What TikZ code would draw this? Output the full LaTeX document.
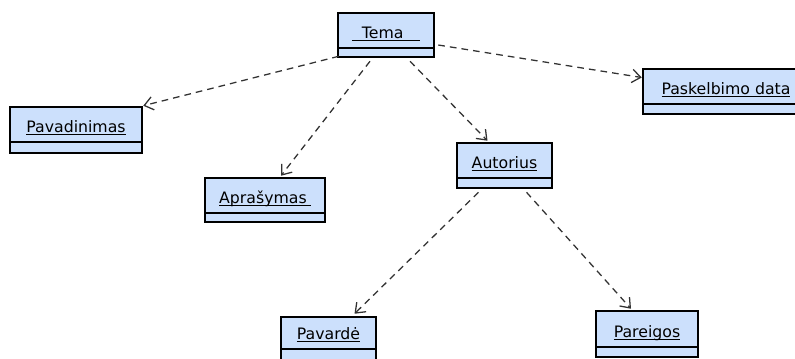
\documentclass[tikz,border=0pt]{standalone}
\usepackage{fontspec}
\setmainfont{DejaVu Sans}
\usetikzlibrary{arrows.meta,fit}

\definecolor{clsfill}{RGB}{204,224,252}
\definecolor{depgray}{RGB}{50,50,50}

% underlined class name, with optional padding before/after the text
\newcommand\ulname[3][0pt]{%
  \setbox0\hbox{\hspace*{#1}#2\hspace*{#3}}%
  \rlap{\rule[-2pt]{\wd0}{0.75pt}}\box0}

\tikzset{
  clsbox/.style={draw=black, line width=1.9pt, fill=clsfill, inner sep=0pt},
  divline/.style={draw=black, line width=1.1pt},
  clslabel/.style={anchor=base, inner sep=0pt, font=\fontsize{11.8pt}{13pt}\selectfont},
  dep/.style={draw=depgray, line width=0.95pt, dash pattern=on 5pt off 3.8pt,
    -{Straight Barb[length=6.5pt,width=10pt,line width=0.95pt]}},
}

% class box: name, left, top, right, bottom, divider, label
\newcommand\umlclass[7]{%
  \node[clsbox, fit={(#2,#3) (#4,#5)}] (#1) {};
  \draw[divline] (#2,#6) -- (#4,#6);
  \node[clslabel] (#1-label) at ({(#2+#4)/2},{#6-10}) {#7};
}

\begin{document}
\begin{tikzpicture}[x=0.75pt,y=-0.75pt]
  \useasboundingbox (0,0) rectangle (795,358);
  \fill[white] (0,0) rectangle (795,358);
  \clip (0,0) rectangle (795,358);

  \umlclass{tema}{338}{13}{434}{57}{48}{\ulname[7.5pt]{Tema}{12.5pt}}
  \umlclass{pavadinimas}{10}{107}{142}{153}{142}{\ulname{Pavadinimas}{0pt}}
  \umlclass{paskelbimo}{643}{69}{809}{114}{104}{\ulname{Paskelbimo data}{0pt}}
  \umlclass{autorius}{457}{143}{552}{188}{178}{\ulname{Autorius}{0pt}}
  \umlclass{aprasymas}{205}{178}{325}{222}{213}{\ulname{Aprašymas}{3pt}}
  \umlclass{pavarde}{281}{317}{376}{362}{349}{\ulname{Pavardė}{0pt}}
  \umlclass{pareigos}{596}{311}{698}{357}{347}{\ulname{Pareigos}{0pt}}

  % dependencies
  \draw[dep] ([shift={(2,-2)}]tema.south west) -- (pavadinimas.north east);
  \draw[dep] ([shift={(-16,3)}]tema.south) -- ([shift={(16,-1)}]aprasymas.north);
  \draw[dep] ([shift={(24,3)}]tema.south) -- ([shift={(-17,-1)}]autorius.north);
  \draw[dep] ([shift={(3,10)}]tema.east) -- ([shift={(0,-14)}]paskelbimo.west);
  \draw[dep] ([shift={(-26,3)}]autorius.south) -- ([shift={(26,-2)}]pavarde.north);
  \draw[dep] ([shift={(22,3)}]autorius.south) -- ([shift={(-16,-1)}]pareigos.north);
\end{tikzpicture}
\end{document}
